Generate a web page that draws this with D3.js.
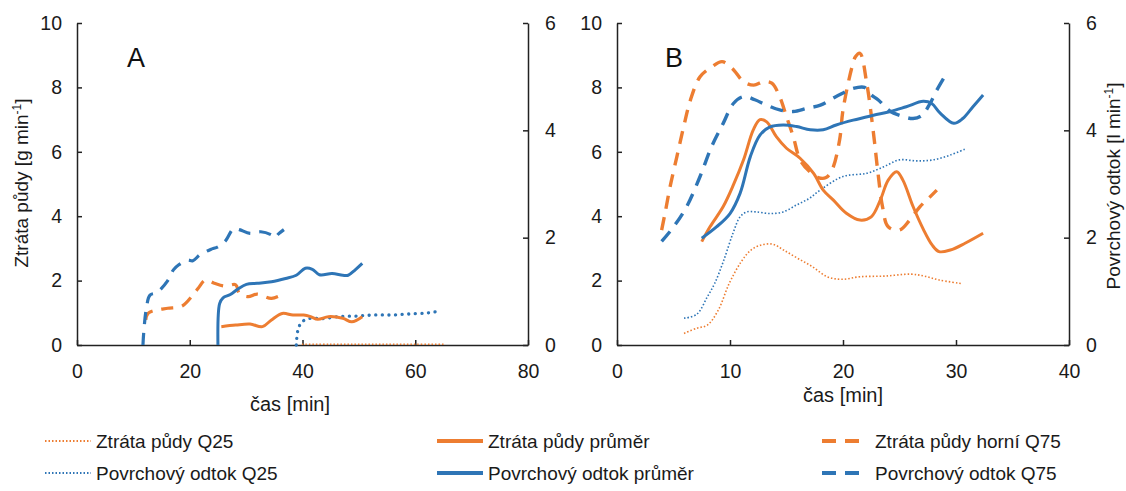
<!DOCTYPE html>
<html><head><meta charset="utf-8">
<script src="https://cdn.jsdelivr.net/npm/d3@7"></script>
<style>
body{margin:0;background:#fff;}
svg{display:block;font-family:"Liberation Sans",Arial,sans-serif;}
.tick text{font-size:19.5px;fill:#1a1a1a;}
.domain,.tick line{stroke:#222;stroke-width:1.5px;}
</style></head>
<body><svg id="c" width="1126" height="491"></svg>
<script>
// ---------- DATA ----------
// Panel A (time in min; soil loss g/min on left axis; runoff l/min on right axis)
const aSoilQ25T = [39.9, 45, 50, 55, 60, 65.2];
const aSoilQ25V = [0.02, 0.02, 0.02, 0.02, 0.02, 0.02];
const aSoilMeanT = [25.6, 28.15, 30.7, 32.9, 34.5, 36.4, 38.3, 40.2, 41.45, 42.7, 44.6, 47.15, 48.75, 50.6];
const aSoilMeanV = [0.57, 0.62, 0.65, 0.57, 0.78, 0.98, 0.93, 0.93, 0.88, 0.80, 0.88, 0.83, 0.72, 0.88];
const aSoilQ75T = [12.2, 12.6, 14.2, 16.1, 18.65, 20.55, 21.5, 22.8, 24.35, 26.25, 28.15, 28.8, 30.35, 31.95, 34.5, 36.7];
const aSoilQ75V = [0.78, 0.98, 1.09, 1.14, 1.21, 1.55, 1.76, 2.02, 1.92, 1.83, 1.87, 1.60, 1.50, 1.58, 1.45, 1.60];
const aRunQ25T = [38.9, 39.2, 39.9, 41.45, 43.35, 46.5, 49.7, 52.85, 56.0, 59.2, 62.35, 64.25];
const aRunQ25V = [0, 0.28, 0.43, 0.50, 0.49, 0.53, 0.54, 0.56, 0.56, 0.58, 0.60, 0.63];
const aRunMeanT = [25.0, 25.3, 25.9, 27.2, 28.5, 30.05, 31.95, 34.5, 37.0, 38.9, 40.5, 41.75, 43.0, 45.25, 47.15, 48.1, 49.35, 50.6];
const aRunMeanV = [0, 0.77, 0.88, 0.94, 1.04, 1.13, 1.15, 1.18, 1.24, 1.30, 1.43, 1.41, 1.31, 1.33, 1.30, 1.30, 1.40, 1.52];
const aRunQ75T = [11.7, 11.85, 12.3, 12.95, 14.2, 16.1, 17.1, 18.0, 19.6, 20.55, 21.8, 23.7, 25.0, 26.25, 27.8, 28.8, 30.7, 32.6, 34.5, 35.1, 35.75, 36.7];
const aRunQ75V = [0, 0.25, 0.68, 0.93, 0.98, 1.20, 1.40, 1.49, 1.58, 1.57, 1.68, 1.78, 1.83, 1.93, 2.17, 2.15, 2.08, 2.11, 2.05, 2.00, 2.07, 2.15];

// Panel B
const bSoilQ25T = [5.93, 7.05, 8.0, 8.97, 9.94, 11.0, 11.86, 12.8, 13.8, 14.74, 16.0, 17.3, 18.6, 19.9, 21.5, 23.7, 26.0, 27.2, 28.5, 30.45];
const bSoilQ25V = [0.36, 0.52, 0.62, 1.09, 1.92, 2.59, 2.95, 3.11, 3.13, 2.95, 2.69, 2.43, 2.12, 2.04, 2.12, 2.14, 2.20, 2.14, 2.02, 1.91];
const bSoilMeanT = [7.5, 8.23, 9.4, 10.3, 11.2, 12.06, 12.65, 13.25, 14.1, 15.0, 16.2, 17.4, 18.25, 19.15, 20.3, 21.5, 22.5, 23.3, 24.0, 24.75, 25.3, 26.2, 27.1, 27.9, 28.5, 29.5, 30.8, 32.4];
const bSoilMeanV = [3.21, 3.67, 4.30, 4.97, 5.75, 6.68, 7.00, 6.93, 6.47, 6.11, 5.80, 5.33, 4.81, 4.50, 4.09, 3.88, 3.98, 4.50, 5.12, 5.38, 5.12, 4.30, 3.60, 3.10, 2.90, 2.95, 3.16, 3.47];
const bSoilQ75T = [3.95, 4.25, 4.7, 5.3, 5.9, 6.5, 7.35, 8.4, 9.3, 10.2, 11.2, 12.1, 13.0, 13.7, 14.4, 15.0, 15.6, 16.2, 17.0, 17.8, 18.5, 19.05, 19.7, 20.0, 20.8, 21.1, 21.5, 22.1, 22.7, 23.1, 23.5, 24.0, 25.0, 25.9, 26.8, 27.7, 28.3];
const bSoilQ75V = [3.57, 4.09, 4.92, 5.85, 6.78, 7.61, 8.33, 8.64, 8.80, 8.59, 8.18, 8.07, 8.18, 8.13, 7.71, 7.09, 6.47, 5.75, 5.40, 5.20, 5.20, 5.45, 6.37, 7.30, 8.64, 8.95, 9.06, 8.13, 6.57, 5.33, 4.29, 3.67, 3.57, 3.88, 4.29, 4.60, 4.81];
const bRunQ25T = [5.93, 7.05, 8.0, 8.65, 9.45, 10.26, 10.9, 11.5, 12.3, 13.5, 14.7, 15.9, 17.0, 18.0, 20.0, 22.1, 23.6, 25.0, 26.5, 28.0, 29.5, 30.9];
const bRunQ25V = [0.50, 0.57, 0.90, 1.15, 1.58, 2.08, 2.39, 2.48, 2.48, 2.45, 2.48, 2.61, 2.73, 2.89, 3.14, 3.20, 3.32, 3.45, 3.43, 3.45, 3.54, 3.66];
const bRunMeanT = [7.5, 8.8, 10.0, 10.9, 11.8, 12.65, 13.5, 14.7, 15.9, 17.1, 18.25, 19.4, 20.9, 22.7, 24.2, 25.6, 27.1, 27.85, 28.6, 29.8, 30.6, 31.5, 32.4];
const bRunMeanV = [1.99, 2.20, 2.45, 2.83, 3.51, 3.91, 4.06, 4.10, 4.07, 4.01, 4.01, 4.10, 4.19, 4.28, 4.35, 4.44, 4.54, 4.50, 4.32, 4.13, 4.22, 4.44, 4.66];
const bRunQ75T = [3.95, 5.0, 6.17, 7.35, 8.38, 9.4, 10.3, 11.2, 12.2, 13.25, 14.4, 15.6, 16.8, 18.0, 19.4, 20.9, 21.9, 22.5, 23.1, 24.2, 25.0, 26.2, 27.0, 27.7, 28.3, 28.9];
const bRunQ75V = [1.93, 2.20, 2.58, 3.14, 3.70, 4.13, 4.50, 4.63, 4.57, 4.47, 4.38, 4.35, 4.41, 4.47, 4.63, 4.78, 4.80, 4.66, 4.57, 4.35, 4.28, 4.22, 4.28, 4.50, 4.75, 4.97];

const aXTicks = [0, 20, 40, 60, 80];
const bXTicks = [0, 10, 20, 30, 40];
const leftTicks = [0, 2, 4, 6, 8, 10];
const rightTicks = [0, 2, 4, 6];
const legendLabels = ["Ztráta půdy Q25", "Ztráta půdy průměr", "Ztráta půdy horní Q75",
                      "Povrchový odtok Q25", "Povrchový odtok průměr", "Povrchový odtok Q75"];

// ---------- STYLE ----------
const ORANGE = "#ED7D31", BLUE = "#2E75B6";
const svg = d3.select("#c");
const plotTop = 23, plotBottom = 345;
const yL = d3.scaleLinear().domain([0, 10]).range([plotBottom, plotTop]);
const yR = d3.scaleLinear().domain([0, 6]).range([plotBottom, plotTop]);
const fmt = d3.format("d");

const zip = (t, v) => t.map((d, i) => [d, v[i]]);

function panel(x0, x1, xMax, xTicks, label, labelX, series) {
  const x = d3.scaleLinear().domain([0, xMax]).range([x0, x1]);
  const g = svg.append("g");
  g.append("g").attr("transform", `translate(0,${plotBottom})`)
    .call(d3.axisBottom(x).tickValues(xTicks).tickFormat(fmt).tickSizeInner(-5).tickSizeOuter(0).tickPadding(19));
  g.append("g").attr("transform", `translate(${x0},0)`)
    .call(d3.axisLeft(yL).tickValues(leftTicks).tickFormat(fmt).tickSizeInner(-5).tickSizeOuter(0).tickPadding(15));
  g.append("g").attr("transform", `translate(${x1},0)`)
    .call(d3.axisRight(yR).tickValues(rightTicks).tickFormat(fmt).tickSizeInner(-5).tickSizeOuter(0).tickPadding(17));
  g.selectAll(".tick text").attr("fill", "#1a1a1a");
  g.append("text").attr("x", labelX).attr("y", 67).attr("font-size", 27).attr("fill", "#111").text(label);

  series.forEach(s => {
    const y = s.right ? yR : yL;
    const line = d3.line().x(d => x(d[0])).y(d => y(d[1])).curve(d3.curveCatmullRom.alpha(0.5));
    g.append("path").datum(zip(s.t, s.v))
      .attr("fill", "none").attr("stroke", s.color)
      .attr("stroke-width", s.w).attr("stroke-dasharray", s.dash || null)
      .attr("stroke-linecap", s.cap || "butt")
      .attr("d", line);
  });
  return x;
}

panel(77, 528, 80, aXTicks, "A", 127, [
  {t: aSoilQ25T, v: aSoilQ25V, color: ORANGE, w: 1.5, dash: "1.5,2"},
  {t: aRunQ25T, v: aRunQ25V, right: true, color: BLUE, w: 3.3, dash: "0.1,6.5", cap: "round"},
  {t: aSoilQ75T, v: aSoilQ75V, color: ORANGE, w: 3.2, dash: "12,9"},
  {t: aRunQ75T, v: aRunQ75V, right: true, color: BLUE, w: 3.2, dash: "12,9"},
  {t: aSoilMeanT, v: aSoilMeanV, color: ORANGE, w: 3},
  {t: aRunMeanT, v: aRunMeanV, right: true, color: BLUE, w: 3}
]);
panel(617, 1069, 40, bXTicks, "B", 665, [
  {t: bSoilQ25T, v: bSoilQ25V, color: ORANGE, w: 1.6, dash: "1.5,2"},
  {t: bRunQ25T, v: bRunQ25V, right: true, color: BLUE, w: 1.6, dash: "1.5,2"},
  {t: bSoilQ75T, v: bSoilQ75V, color: ORANGE, w: 3.4, dash: "13,9"},
  {t: bRunQ75T, v: bRunQ75V, right: true, color: BLUE, w: 3.4, dash: "13,9"},
  {t: bSoilMeanT, v: bSoilMeanV, color: ORANGE, w: 3},
  {t: bRunMeanT, v: bRunMeanV, right: true, color: BLUE, w: 3}
]);

// axis titles
svg.append("text").attr("transform", "translate(28,183) rotate(-90)").attr("text-anchor", "middle")
  .attr("font-size", 19).attr("fill", "#1a1a1a")
  .html('Ztráta půdy [g min<tspan dy="-7" font-size="12">-1</tspan><tspan dy="7">]</tspan>');
svg.append("text").attr("transform", "translate(1120,186) rotate(-90)").attr("text-anchor", "middle")
  .attr("font-size", 19).attr("fill", "#1a1a1a")
  .html('Povrchový odtok [l min<tspan dy="-7" font-size="12">-1</tspan><tspan dy="7">]</tspan>');
svg.append("text").attr("x", 290).attr("y", 411).attr("text-anchor", "middle").attr("font-size", 20).attr("fill", "#1a1a1a").text("čas [min]");
svg.append("text").attr("x", 843).attr("y", 402).attr("text-anchor", "middle").attr("font-size", 20).attr("fill", "#1a1a1a").text("čas [min]");

// legend
const legX = [45, 437, 822];
const legRowY = [441, 473];
const legStyles = [
  {color: ORANGE, w: 2, dash: "1.5,2"}, {color: ORANGE, w: 4}, {color: ORANGE, w: 4, dash: "14,9"},
  {color: BLUE, w: 2, dash: "1.5,2"}, {color: BLUE, w: 4}, {color: BLUE, w: 4, dash: "14,9"}
];
legendLabels.forEach((lab, i) => {
  const cx = legX[i % 3], cy = legRowY[Math.floor(i / 3)];
  const st = legStyles[i];
  svg.append("line").attr("x1", cx).attr("x2", cx + 46).attr("y1", cy).attr("y2", cy)
    .attr("stroke", st.color).attr("stroke-width", st.w).attr("stroke-dasharray", st.dash || null);
  svg.append("text").attr("x", cx + (i % 3 === 2 ? 53 : 51)).attr("y", cy + 6.5).attr("font-size", 19)
    .attr("fill", "#1a1a1a").text(lab);
});
</script></body></html>
